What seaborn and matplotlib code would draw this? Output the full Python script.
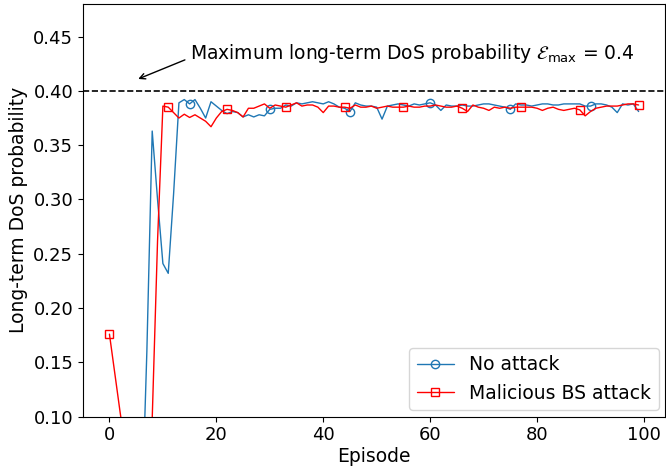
import numpy as np
import pandas as pd
import matplotlib
matplotlib.use("Agg")
import matplotlib.pyplot as plt
import seaborn as sns

episodes = list(range(100))

no_attack = [
    0.04, 0.03, 0.05, 0.02, 0.06, 0.03, 0.00, 0.160, 0.363, 0.300,
    0.241, 0.232, 0.305, 0.389, 0.392, 0.388, 0.392, 0.384, 0.375, 0.390,
    0.386, 0.382, 0.379, 0.381, 0.380, 0.376, 0.378, 0.376, 0.378, 0.377,
    0.383, 0.384, 0.384, 0.387, 0.386, 0.389, 0.388, 0.389, 0.390, 0.389,
    0.388, 0.390, 0.388, 0.385, 0.384, 0.381, 0.389, 0.387, 0.386, 0.386,
    0.385, 0.374, 0.386, 0.387, 0.388, 0.387, 0.386, 0.388, 0.387, 0.388,
    0.389, 0.387, 0.382, 0.387, 0.386, 0.386, 0.387, 0.386, 0.386, 0.387,
    0.388, 0.388, 0.387, 0.386, 0.385, 0.383, 0.388, 0.387, 0.387, 0.386,
    0.387, 0.388, 0.388, 0.387, 0.387, 0.388, 0.388, 0.388, 0.388, 0.386,
    0.386, 0.388, 0.388, 0.387, 0.385, 0.380, 0.388, 0.387, 0.388, 0.381,
]

malicious = [
    0.176, 0.140, 0.104, 0.070, 0.050, 0.040, 0.030, 0.020, 0.098, 0.262,
    0.386, 0.385, 0.380, 0.375, 0.3785, 0.3755, 0.378, 0.375, 0.372, 0.367,
    0.375, 0.381, 0.383, 0.382, 0.380, 0.376, 0.384, 0.384, 0.386, 0.388,
    0.384, 0.387, 0.386, 0.385, 0.387, 0.389, 0.386, 0.387, 0.387, 0.385,
    0.380, 0.386, 0.386, 0.385, 0.385, 0.384, 0.387, 0.385, 0.385, 0.386,
    0.384, 0.385, 0.386, 0.385, 0.385, 0.385, 0.386, 0.385, 0.385, 0.386,
    0.386, 0.387, 0.386, 0.385, 0.385, 0.386, 0.384, 0.381, 0.387, 0.385,
    0.384, 0.382, 0.385, 0.384, 0.385, 0.384, 0.385, 0.385, 0.385, 0.385,
    0.384, 0.382, 0.384, 0.385, 0.383, 0.382, 0.383, 0.384, 0.3825, 0.377,
    0.381, 0.384, 0.385, 0.386, 0.386, 0.386, 0.387, 0.388, 0.388, 0.387,
]

series_labels = ["No attack", "Malicious BS attack"]
eps_max = 0.4
y_ticks = [0.10, 0.15, 0.20, 0.25, 0.30, 0.35, 0.40, 0.45]
x_ticks = [0, 20, 40, 60, 80, 100]

sns.set_style("ticks", {"axes.edgecolor": "black", "xtick.color": "black",
                        "ytick.color": "black", "text.color": "black",
                        "axes.labelcolor": "black"})
plt.rcParams["font.family"] = ["DejaVu Sans"]

fig = plt.figure(figsize=(6.66, 4.69), dpi=100)
ax = fig.add_axes([0.1246, 0.1115, 0.8740, 0.88])

sns.lineplot(x=episodes, y=no_attack, ax=ax, color="#1f77b4", linewidth=1,
             marker="o", markevery=15, markersize=6, markerfacecolor="none",
             markeredgecolor="#1f77b4", markeredgewidth=1,
             label=series_labels[0])
sns.lineplot(x=episodes, y=malicious, ax=ax, color="red", linewidth=1,
             marker="s", markevery=11, markersize=6, markerfacecolor="none",
             markeredgecolor="red", markeredgewidth=1,
             label=series_labels[1])

ax.axhline(eps_max, color="black", linestyle="--", linewidth=1.2)
ax.annotate("", xy=(4.9, 0.410), xytext=(14.6, 0.4295),
            arrowprops=dict(arrowstyle="->", color="black", lw=1))
ax.text(15.0, 0.4295, r"Maximum long-term DoS probability $\mathcal{E}_{\max}$ = 0.4",
        fontsize=13.5, va="baseline", ha="left")

ax.set_xlim(-4.95, 103.95)
ax.set_ylim(0.10, 0.48)
ax.set_xticks(x_ticks)
ax.set_yticks(y_ticks)
ax.set_yticklabels([f"{t:.2f}" for t in y_ticks])
ax.tick_params(labelsize=13)
ax.set_xlabel("Episode", fontsize=13.5, labelpad=2)
ax.set_ylabel("Long-term DoS probability", fontsize=13.5)
ax.legend(loc="lower right", fontsize=13.5, frameon=True, borderaxespad=0.35)

fig.savefig("out.png", dpi=100)
